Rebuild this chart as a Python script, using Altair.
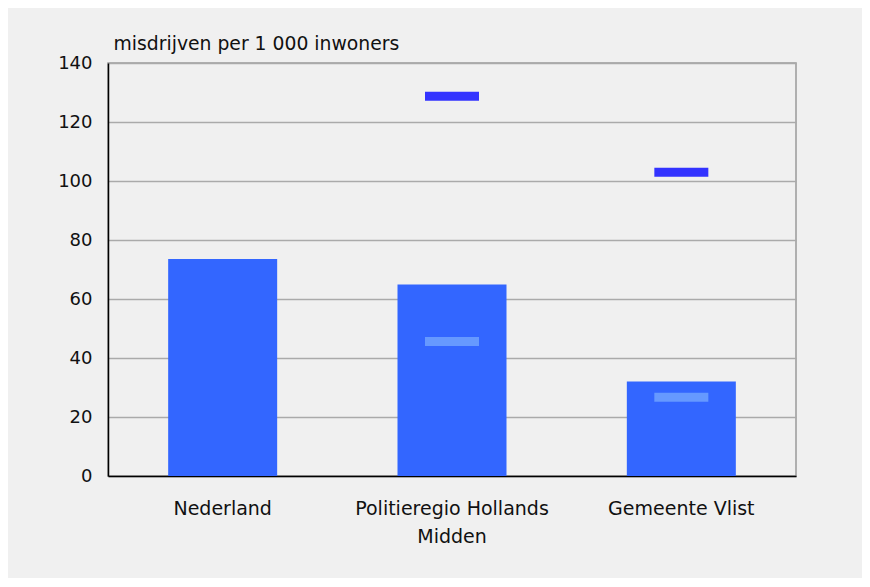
import altair as alt
import pandas as pd

categories = ["Nederland", "Politieregio Hollands Midden", "Gemeente Vlist"]
bar_values = [73.6, 64.9, 32.0]
dark_marker = [None, 128.7, 103.0]
light_marker = [None, 45.6, 26.7]

df = pd.DataFrame({
    "cat": categories,
    "bar": bar_values,
    "dark": dark_marker,
    "light": light_marker,
})

FONT = "DejaVu Sans"

x = alt.X(
    "cat:N",
    sort=categories,
    scale=alt.Scale(paddingInner=0, paddingOuter=0),
    axis=alt.Axis(
        title=None,
        labelAngle=0,
        labelFont=FONT,
        labelFontSize=19,
        labelColor="#111111",
        labelPadding=23,
        labelLineHeight=28,
        labelLimit=0,
        labelExpr="datum.label == 'Politieregio Hollands Midden' ? ['Politieregio Hollands', 'Midden'] : datum.label",
        ticks=False,
        tickSize=0,
        domainColor="#000000",
        domainWidth=1.5,
        grid=False,
    ),
)

y_axis = alt.Axis(
    title="misdrijven per 1 000 inwoners",
    titleAngle=0,
    titleAlign="left",
    titleBaseline="alphabetic",
    titleX=5,
    titleY=-14,
    titleFont=FONT,
    titleFontSize=18.8,
    titleFontWeight="normal",
    titleColor="#111111",
    values=[0, 20, 40, 60, 80, 100, 120, 140],
    labelFont=FONT,
    labelFontSize=18,
    labelColor="#111111",
    labelPadding=16,
    ticks=False,
    tickSize=0,
    domainColor="#000000",
    domainWidth=1.5,
    gridColor="#aaaaaa",
    gridWidth=1.5,
)

y_scale = alt.Scale(domain=[0, 140], nice=False)

bars = alt.Chart(df).mark_bar(size=109, color="#3366ff").encode(
    x=x,
    y=alt.Y("bar:Q", scale=y_scale, axis=y_axis),
)

dark = alt.Chart(df).transform_filter("isValid(datum.dark)").mark_tick(
    size=54, thickness=9, color="#3333ff", orient="horizontal", opacity=1
).encode(
    x=alt.X("cat:N", sort=categories),
    y=alt.Y("dark:Q", scale=y_scale),
)

light = alt.Chart(df).transform_filter("isValid(datum.light)").mark_tick(
    size=54, thickness=9, color="#6699ff", orient="horizontal", opacity=1
).encode(
    x=alt.X("cat:N", sort=categories),
    y=alt.Y("light:Q", scale=y_scale),
)

chart = alt.layer(bars, dark, light).properties(
    width=688,
    height=413,
    background="#f0f0f0",
    padding={"left": 100, "top": 55, "right": 66, "bottom": 102},
    autosize=alt.AutoSizeParams(type="none"),
).configure_view(
    stroke="#999999",
    strokeWidth=1.5,
)

chart.save("out.html", embed_options={"renderer": "svg", "actions": False})
